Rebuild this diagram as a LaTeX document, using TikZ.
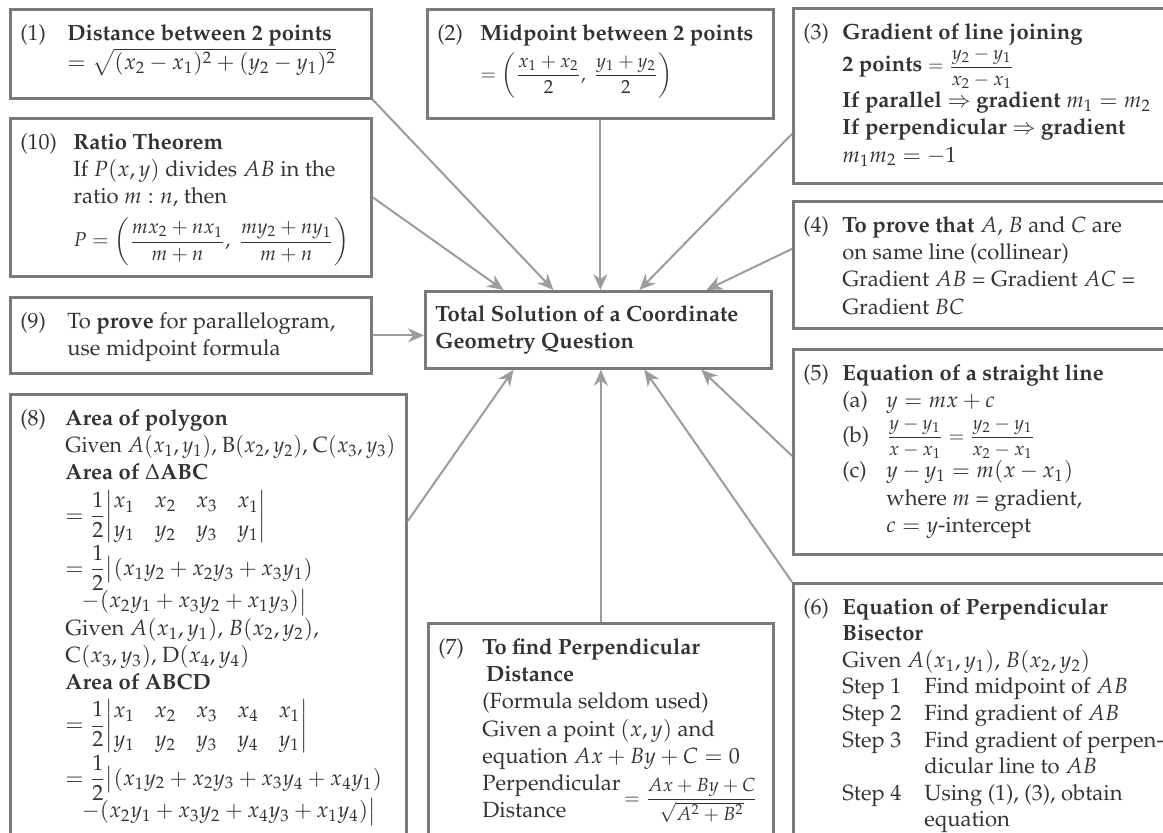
\documentclass[tikz,border=0pt]{standalone}
\usepackage[T1]{fontenc}
\usepackage{amsmath}
\usepackage{mathpazo}
\usepackage{tikz}
\usetikzlibrary{arrows.meta}
\definecolor{boxgray}{HTML}{7A7A7A}
\definecolor{arrowgray}{HTML}{9C9C9C}
\definecolor{inkgray}{HTML}{333333}

% numbered panel: [label width]{width}{height}{label}{lines}
\newcommand{\panel}[5][19.5pt]{%
  \parbox[c][#3][t]{#2}{\makebox[#1][l]{#4}\begin{tabular}[t]{@{}l@{}}#5\end{tabular}}}
% formula set a little smaller than the text
\newcommand{\fracline}[2][9.5]{{\fontsize{#1}{12}\selectfont$\displaystyle #2$}}

\begin{document}
\begin{tikzpicture}[
  x=0.5pt, y=-0.5pt,
  box/.style={draw=boxgray, line width=1.4pt, fill=white, inner xsep=5pt, inner ysep=6pt,
    anchor=north west, text=inkgray, font=\fontsize{11}{13.6}\selectfont},
  arr/.style={-{Stealth[length=8pt,width=7pt]}, line width=1pt, arrowgray}
]
\path[use as bounding box] (0,0) rectangle (1163,833);
\clip (0,0) rectangle (1163,833);

% left column
\node[box] (dist) at (9,8) {\panel[23.5pt]{170.5pt}{32.5pt}{(1)}{%
  \textbf{Distance between 2 points}\\
  $=\sqrt{(x_2-x_1)^2+(y_2-y_1)^2}$}};
\node[box] (ratio) at (9,117) {\panel[26.5pt]{170.5pt}{67pt}{(10)}{%
  \textbf{Ratio Theorem}\\
  If $P(x, y)$ divides $AB$ in the\\
  ratio $m:n$, then\\[3pt]
  \fracline[10]{P=\left(\dfrac{mx_2+nx_1}{m+n},\ \dfrac{my_2+ny_1}{m+n}\right)}}};
\node[box] (para) at (9,296) {\panel[23.5pt]{170.5pt}{26pt}{(9)}{%
  To \textbf{prove} for parallelogram,\\
  use midpoint formula}};
\node[box] (area) at (9,393) {\panel[22.5pt]{188pt}{221.5pt}{(8)}{%
  \textbf{Area of polygon}\\
  \scalebox{0.96}[1]{Given $A(x_1, y_1)$, B$(x_2, y_2)$, C$(x_3, y_3)$}\\
  \textbf{Area of $\Delta$ABC}\\
  $=\dfrac{1}{2}{\def\arraystretch{1.05}\begin{vmatrix} x_1 & x_2 & x_3 & x_1\\ y_1 & y_2 & y_3 & y_1\end{vmatrix}}$\\
  $=\dfrac{1}{2}\big|(x_1y_2+x_2y_3+x_3y_1)$\\[-1pt]
  \hspace*{8pt}$-(x_2y_1+x_3y_2+x_1y_3)\big|$\\
  Given $A(x_1, y_1)$, $B(x_2, y_2)$,\\
  C$(x_3, y_3)$, D$(x_4, y_4)$\\
  \textbf{Area of ABCD}\\
  $=\dfrac{1}{2}{\def\arraystretch{1.05}\begin{vmatrix} x_1 & x_2 & x_3 & x_4 & x_1\\ y_1 & y_2 & y_3 & y_4 & y_1\end{vmatrix}}$\\
  $=\dfrac{1}{2}\big|(x_1y_2+x_2y_3+x_3y_4+x_4y_1)$\\[-1pt]
  \hspace*{8pt}$-(x_2y_1+x_3y_2+x_4y_3+x_1y_4)\big|$}};

% middle column
\node[box] (mid) at (426,8) {\panel[21.5pt]{163pt}{42.5pt}{(2)}{%
  \textbf{Midpoint between 2 points}\\[2pt]
  \fracline{=\left(\dfrac{x_1+x_2}{2},\ \dfrac{y_1+y_2}{2}\right)}}};
\node[box] (total) at (424,290) {\parbox[c][26.5pt][c]{163pt}{\bfseries
  Total Solution of a Coordinate\\ Geometry Question}};
\node[box] (perp) at (427,622) {\panel[22pt]{162.5pt}{107pt}{(7)}{%
  \textbf{To find Perpendicular}\\
  \textbf{\,Distance}\\
  (Formula seldom used)\\
  Given a point $(x, y)$ and\\
  equation $Ax+By+C=0$\\
  \begin{tabular}{@{}l@{}}Perpendicular\\ Distance\end{tabular}\,\fracline{=\dfrac{Ax+By+C}{\sqrt{A^2+B^2}}}}};

% right column
\node[box] (grad) at (792,7) {\panel{184pt}{75.5pt}{(3)}{%
  \textbf{Gradient of line joining}\\
  \textbf{2 points} \fracline{=\dfrac{y_2-y_1}{x_2-x_1}}\\
  \textbf{If parallel $\Rightarrow$ gradient} $m_1=m_2$\\
  \textbf{If perpendicular $\Rightarrow$ gradient}\\
  $m_1m_2=-1$}};
\node[box] (collin) at (792,200) {\panel{184pt}{51.5pt}{(4)}{%
  \textbf{To prove that} $A$, $B$ and $C$ are\\
  on same line (collinear)\\
  Gradient $AB$ = Gradient $AC$ =\\
  Gradient $BC$}};
\node[box] (line) at (792,348) {\panel{184pt}{90.5pt}{(5)}{%
  \textbf{Equation of a straight line}\\
  \makebox[22pt][l]{(a)}$y=mx+c$\\[1pt]
  \makebox[22pt][l]{(b)}\fracline{\dfrac{y-y_1}{x-x_1}=\dfrac{y_2-y_1}{x_2-x_1}}\\[1pt]
  \makebox[22pt][l]{(c)}$y-y_1=m(x-x_1)$\\
  \hspace*{22pt}where $m$ = gradient,\\
  \hspace*{22pt}$c=y$-intercept}};
\node[box, font=\fontsize{11}{13.3}\selectfont] (bisect) at (792,582) {\panel{184pt}{127pt}{(6)}{%
  \textbf{Equation of Perpendicular}\\
  \textbf{Bisector}\\
  Given $A(x_1, y_1)$, $B(x_2, y_2)$\\
  \makebox[41pt][l]{Step 1}Find midpoint of $AB$\\
  \makebox[41pt][l]{Step 2}Find gradient of $AB$\\
  \makebox[41pt][l]{Step 3}Find gradient of perpen-\\
  \hspace*{41pt}dicular line to $AB$\\
  \makebox[41pt][l]{Step 4}Using (1), (3), obtain\\
  \hspace*{41pt}equation}};

% connectors into the centre
\draw[arr] (dist.south east) -- ([xshift=-22.5pt]total.north);
\draw[arr] (ratio.east) -- ([xshift=-47.5pt]total.north);
\draw[arr] (mid.south) -- (mid.south |- total.north);
\draw[arr] ([yshift=-19pt]grad.west) -- ([xshift=20.5pt]total.north);
\draw[arr] ([yshift=8pt]collin.west) -- ([xshift=54pt]total.north);
\draw[arr] (para.east) -- (para.east -| total.west);
\draw[arr] ([yshift=-64pt]area.north east) -- ([xshift=-42.5pt]total.south);
\draw[arr] (perp.north) -- (perp.north |- total.south);
\draw[arr] (bisect.north west) -- ([xshift=23pt]total.south);
\draw[arr] ([yshift=-2pt]line.west) -- ([xshift=51.5pt]total.south);

\end{tikzpicture}
\end{document}
